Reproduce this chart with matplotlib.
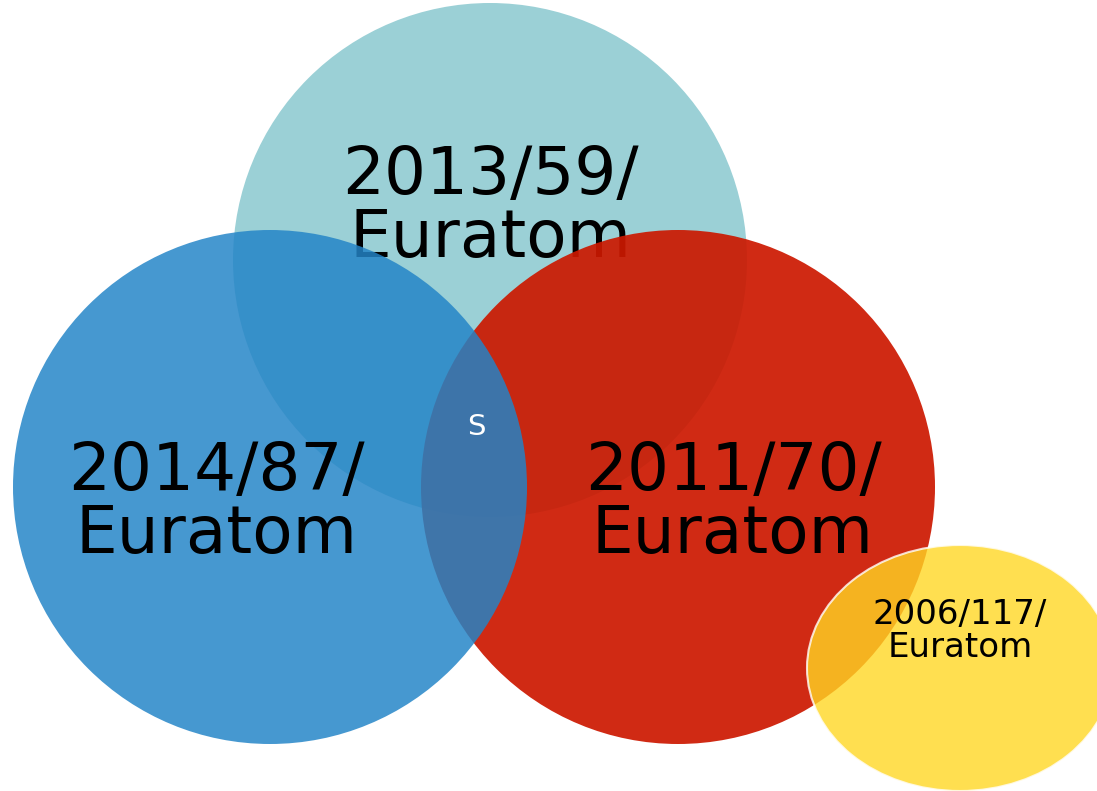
import matplotlib.pyplot as plt
from matplotlib.patches import Circle, Ellipse

# circles, in pixel coordinates of the original slide (y downwards)
labels = ["2013/59/\nEuratom", "2011/70/\nEuratom", "2014/87/\nEuratom"]
centers = [(490, 260), (678, 487), (270, 487)]
radii = [257, 257, 257]
colors = ["#9bd0d6", "#cc1800", "#2384c7"]
alphas = [1.0, 0.92, 0.84]
label_pos = [(490, 208), (733, 503), (216, 503)]

small_label = "2006/117/\nEuratom"
small_center = (960, 668)
small_size = (306, 246)
small_label_pos = (960, 631)

fig = plt.figure(figsize=(10.97, 7.91), dpi=100)
ax = fig.add_axes([0, 0, 1, 1])
ax.set_xlim(0, 1097)
ax.set_ylim(791, 0)
ax.set_aspect("equal")
ax.axis("off")

# top circle and its label go under the other two
ax.add_patch(Circle(centers[0], radii[0], color=colors[0], alpha=alphas[0], lw=0, zorder=1))
ax.text(label_pos[0][0], label_pos[0][1], labels[0], fontsize=47.5, ha="center",
        va="center", linespacing=0.98, zorder=2)

for i in [1, 2]:
    ax.add_patch(Circle(centers[i], radii[i], color=colors[i], alpha=alphas[i], lw=0, zorder=3 + i))

for i in [1, 2]:
    ax.text(label_pos[i][0], label_pos[i][1], labels[i], fontsize=47.5, ha="center",
            va="center", linespacing=0.98, zorder=10)

ax.text(476, 427, "S", fontsize=21, color="white", ha="center", va="center", zorder=10)

ax.add_patch(Ellipse(small_center, small_size[0], small_size[1], facecolor="#ffd724",
                     alpha=0.8, edgecolor="white", lw=1.5, zorder=8))
ax.text(small_label_pos[0], small_label_pos[1], small_label, fontsize=24.5, ha="center",
        va="center", linespacing=0.98, zorder=10)

fig.savefig("out.png", dpi=100)
